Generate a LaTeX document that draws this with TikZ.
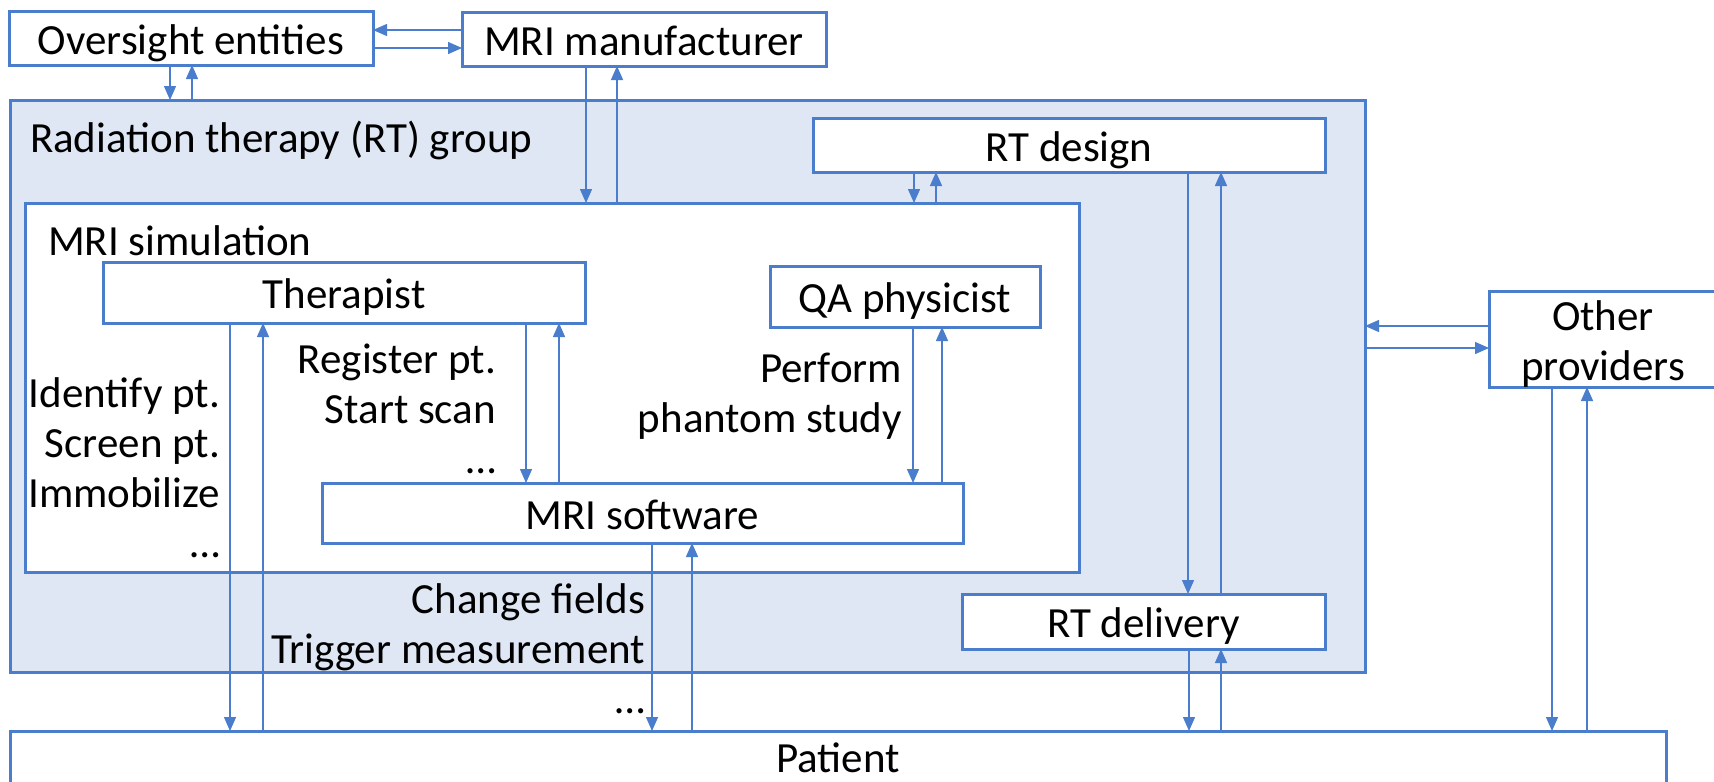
\documentclass[tikz,border=0pt]{standalone}
\usepackage{fontspec}
\setmainfont{Carlito}
\usetikzlibrary{arrows.meta}
\definecolor{edgeblue}{HTML}{4A7DCB}
\definecolor{groupfill}{HTML}{DFE7F4}
\tikzset{
  every node/.style={font=\fontsize{43pt}{50pt}\selectfont, inner sep=0pt, outer sep=0pt},
  boxnode/.style={draw=edgeblue, line width=3pt, fill=white, anchor=north west,
    text height=36pt, text depth=4pt},
  arr/.style={draw=edgeblue, line width=1.4pt, -{Triangle[length=14pt,width=12pt]}},
  lbl/.style={align=right, anchor=base east},
}
\begin{document}
\begin{tikzpicture}[x=1pt, y=-1pt]
\useasboundingbox (0,0) rectangle (1714,782);

% outer group and the simulation sub-group
\node[boxnode, fill=groupfill, minimum width=1355pt, minimum height=572pt] (rtgroup) at (10,100) {};
\node[anchor=base west] (rtlabel) at (30,152) {Radiation therapy (RT) group};
\node[boxnode, minimum width=1054pt, minimum height=369pt] (mrisim) at (25,203) {};
\node[anchor=base west] (simlabel) at (48,255) {MRI simulation};

% boxes
\node[boxnode, minimum width=364pt, minimum height=54pt] (oversight) at (9,11) {Oversight entities};
\node[boxnode, minimum width=364pt, minimum height=54pt] (manuf) at (462,12) {MRI manufacturer};
\node[boxnode, minimum width=512pt, minimum height=54pt] (rtdesign) at (813,118) {RT design};
\node[boxnode, minimum width=482pt, minimum height=61pt] (therapist) at (103,262) {Therapist};
\node[boxnode, minimum width=270pt, minimum height=61pt] (qa) at (770,266) {QA physicist};
\node[boxnode, minimum width=641pt, minimum height=60pt] (software) at (322,483) {MRI software};
\node[boxnode, minimum width=363pt, minimum height=55pt] (rtdelivery) at (962,594) {RT delivery};
\node[boxnode, minimum width=228pt, minimum height=96pt, align=center,
  text height=86pt, text depth=4pt] (other) at (1489,291) {Other\\providers};
\node[boxnode, minimum width=1656pt, minimum height=52pt, text height=34pt, text depth=4pt] (patient) at (10,731) {Patient};

% task labels (anchored at the baseline of their last line)
\node[lbl] (tasksA) at (220,557) {Identify pt.\\Screen pt.\\Immobilize\\…};
\node[lbl] (tasksB) at (496,473) {Register pt.\\Start scan\\…};
\node[lbl] (tasksC) at (902,432) {Perform\\phantom study};
\node[lbl] (tasksD) at (645,713) {Change fields\\Trigger measurement\\…};

% connectors
\draw[arr] (manuf.west |- 0,30) -- (oversight.east |- 0,30);
\draw[arr] (oversight.east |- 0,48) -- (manuf.west |- 0,48);
\draw[arr] (oversight.south -| 170,0) -- (rtgroup.north -| 170,0);
\draw[arr] (rtgroup.north -| 192,0) -- (oversight.south -| 192,0);
\draw[arr] (manuf.south -| 586,0) -- (mrisim.north -| 586,0);
\draw[arr] (mrisim.north -| 617,0) -- (manuf.south -| 617,0);
\draw[arr] (rtdesign.south -| 914,0) -- (mrisim.north -| 914,0);
\draw[arr] (mrisim.north -| 936,0) -- (rtdesign.south -| 936,0);
\draw[arr] (rtdesign.south -| 1188,0) -- (rtdelivery.north -| 1188,0);
\draw[arr] (rtdelivery.north -| 1221,0) -- (rtdesign.south -| 1221,0);
\draw[arr] (rtdelivery.south -| 1189,0) -- (patient.north -| 1189,0);
\draw[arr] (patient.north -| 1221,0) -- (rtdelivery.south -| 1221,0);
\draw[arr] (therapist.south -| 230,0) -- (patient.north -| 230,0);
\draw[arr] (patient.north -| 263,0) -- (therapist.south -| 263,0);
\draw[arr] (therapist.south -| 526,0) -- (software.north -| 526,0);
\draw[arr] (software.north -| 559,0) -- (therapist.south -| 559,0);
\draw[arr] (qa.south -| 913,0) -- (software.north -| 913,0);
\draw[arr] (software.north -| 942,0) -- (qa.south -| 942,0);
\draw[arr] (software.south -| 652,0) -- (patient.north -| 652,0);
\draw[arr] (patient.north -| 692,0) -- (software.south -| 692,0);
\draw[arr] (other.west |- 0,326) -- (rtgroup.east |- 0,326);
\draw[arr] (rtgroup.east |- 0,348) -- (other.west |- 0,348);
\draw[arr] (other.south -| 1552,0) -- (patient.north -| 1552,0);
\draw[arr] (patient.north -| 1587,0) -- (other.south -| 1587,0);
\end{tikzpicture}
\end{document}
